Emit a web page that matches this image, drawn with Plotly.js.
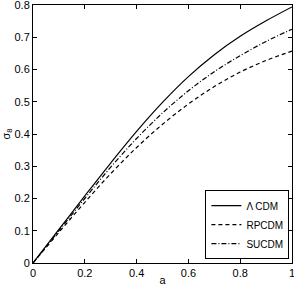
<!DOCTYPE html>
<html>
<head>
<meta charset="utf-8">
<script src="https://cdn.plot.ly/plotly-3.0.1.min.js"></script>
<style>html,body{margin:0;padding:0;background:#fff;}#chart{width:294px;height:286px;}</style>
</head>
<body>
<div id="chart"></div>
<script>
var aValues = [0, 0.1, 0.2, 0.3, 0.4, 0.5, 0.6, 0.7, 0.8, 0.9, 1.0];
var lcdm  = [0, 0.104, 0.208, 0.310, 0.408, 0.498, 0.578, 0.646, 0.703, 0.751, 0.794];
var rpcdm = [0, 0.095, 0.188, 0.277, 0.358, 0.430, 0.493, 0.547, 0.592, 0.628, 0.657];
var sucdm = [0, 0.100, 0.200, 0.297, 0.386, 0.465, 0.534, 0.593, 0.643, 0.687, 0.725];
var seriesNames = ["\u039B CDM", "RPCDM", "SUCDM"];
var xTickVals = [0, 0.2, 0.4, 0.6, 0.8, 1];
var xTickText = ["0", "0.2", "0.4", "0.6", "0.8", "1"];
var yTickVals = [0, 0.1, 0.2, 0.3, 0.4, 0.5, 0.6, 0.7, 0.8];
var yTickText = ["0", "0.1", "0.2", "0.3", "0.4", "0.5", "0.6", "0.7", "0.8"];

var font = {family: "Liberation Sans, Arial, sans-serif", size: 11, color: "#000"};
var traces = [
  {x: aValues, y: lcdm, name: seriesNames[0], mode: "lines",
   line: {color: "#000", width: 1.2, shape: "spline", smoothing: 1, dash: "solid"}},
  {x: aValues, y: rpcdm, name: seriesNames[1], mode: "lines",
   line: {color: "#000", width: 1.2, shape: "spline", smoothing: 1, dash: "4px,3px"}},
  {x: aValues, y: sucdm, name: seriesNames[2], mode: "lines",
   line: {color: "#000", width: 1.2, shape: "spline", smoothing: 1, dash: "5px,2px,1px,2px"}}
];
var axisCommon = {
  showgrid: false, zeroline: false, showline: true, linecolor: "#000", linewidth: 1,
  mirror: "ticks", ticks: "inside", ticklen: 4, tickcolor: "#000", tickwidth: 1,
  tickfont: font, ticklabeloverflow: "allow"
};
var layout = {
  width: 294, height: 286,
  margin: {l: 33, r: 2, t: 5, b: 23, pad: 0},
  paper_bgcolor: "#fff", plot_bgcolor: "#fff",
  font: font,
  showlegend: true,
  legend: {x: 0.99, y: 0.015, xanchor: "right", yanchor: "bottom",
           bgcolor: "#fff", bordercolor: "#000", borderwidth: 1,
           font: {family: "Liberation Sans, Arial, sans-serif", size: 10, color: "#000"},
           itemwidth: 30, tracegroupgap: 0},
  xaxis: Object.assign({}, axisCommon, {range: [0, 1], tickvals: xTickVals, ticktext: xTickText,
           title: {text: "a", font: font, standoff: 2}}),
  yaxis: Object.assign({}, axisCommon, {range: [0, 0.8], tickvals: yTickVals, ticktext: yTickText,
           title: {text: "\u03C3<sub>8</sub>", font: font, standoff: 2}})
};
Plotly.newPlot("chart", traces, layout, {displayModeBar: false, staticPlot: true});
</script>
</body>
</html>
